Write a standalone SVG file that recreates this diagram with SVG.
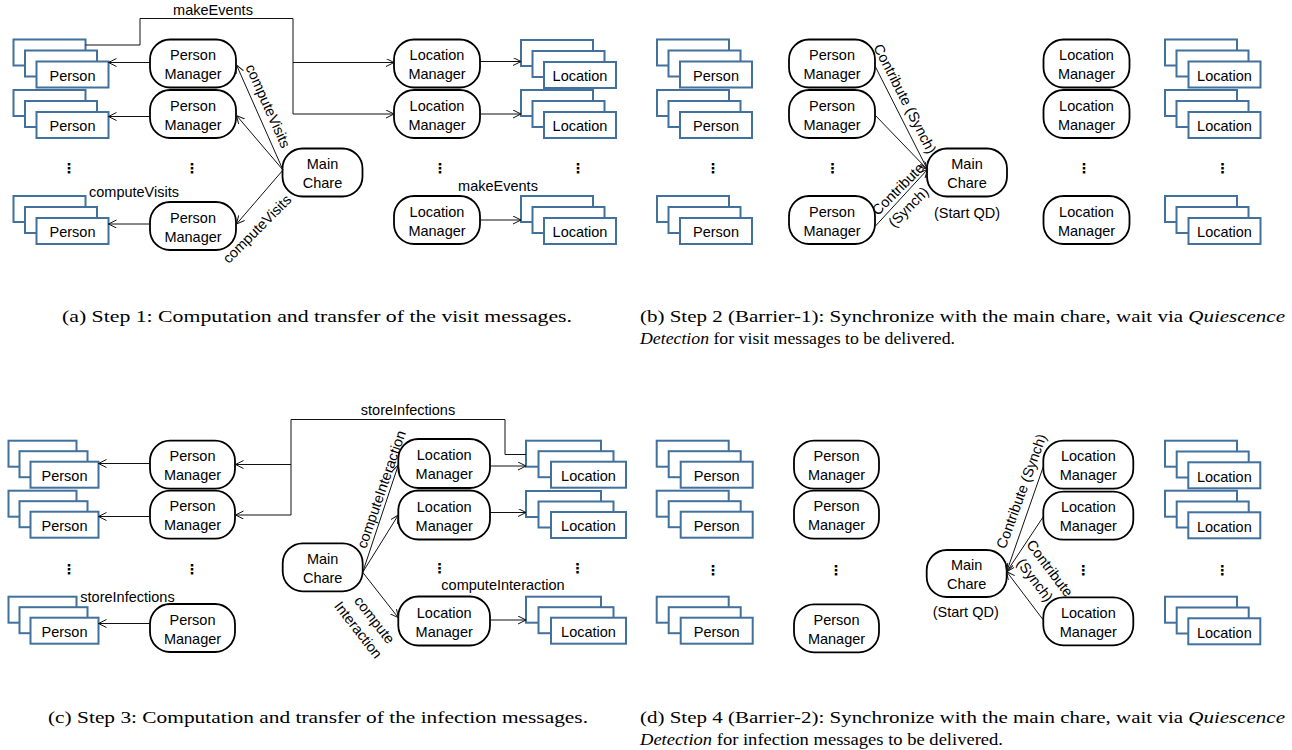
<svg xmlns="http://www.w3.org/2000/svg" width="1292" height="750" viewBox="0 0 1292 750">
<style>
.mgr{fill:#fff;stroke:#000;stroke-width:1.8}
.stk{fill:#fff;stroke:#41719c;stroke-width:2}
.t{font-family:"Liberation Sans",Arial,sans-serif;font-size:14.5px;text-anchor:middle;fill:#000}
.dots{font-family:"DejaVu Sans",sans-serif;font-size:14px;font-weight:bold;text-anchor:middle;fill:#000}
.ln{fill:none;stroke:#111;stroke-width:1}
.ar{marker-end:url(#arr)}
.cap{font-family:"Liberation Serif","Times New Roman",serif;font-size:17px;fill:#000}
.it{font-style:italic}
</style>
<defs>
<marker id="arr" markerUnits="userSpaceOnUse" markerWidth="10" markerHeight="10" refX="8" refY="4" orient="auto">
<path d="M0,0 L8,4 L0,8" fill="none" stroke="#111" stroke-width="1"/>
</marker>
</defs>
<rect width="1292" height="750" fill="#fff"/>

<!-- ===== Panel (a) ===== -->
<g id="a-nodes">
<g id="a-person1"><rect class="stk" x="13.5" y="39.5" width="72" height="26"/><rect class="stk" x="25" y="50.5" width="72" height="26"/><rect class="stk" x="36.5" y="61.5" width="72" height="26"/><text class="t" x="72.5" y="80.5">Person</text></g>
<g id="a-person2"><rect class="stk" x="13.5" y="90" width="72" height="26"/><rect class="stk" x="25" y="101" width="72" height="26"/><rect class="stk" x="36.5" y="112" width="72" height="26"/><text class="t" x="72.5" y="131">Person</text></g>
<g id="a-person3"><rect class="stk" x="13.5" y="196" width="72" height="26"/><rect class="stk" x="25" y="207" width="72" height="26"/><rect class="stk" x="36.5" y="218" width="72" height="26"/><text class="t" x="72.5" y="237">Person</text></g>
<g id="a-pm1"><rect class="mgr" x="150" y="39.5" width="86" height="48" rx="20"/><text class="t" x="193" y="60">Person</text><text class="t" x="193" y="79">Manager</text></g>
<g id="a-pm2"><rect class="mgr" x="150" y="90" width="86" height="48" rx="20"/><text class="t" x="193" y="110.5">Person</text><text class="t" x="193" y="129.5">Manager</text></g>
<g id="a-pm3"><rect class="mgr" x="150" y="202" width="86" height="48" rx="20"/><text class="t" x="193" y="222.5">Person</text><text class="t" x="193" y="241.5">Manager</text></g>
<g id="a-main"><rect class="mgr" x="282.5" y="148.5" width="80" height="48" rx="20"/><text class="t" x="322.5" y="168.5">Main</text><text class="t" x="322.5" y="187.5">Chare</text></g>
<g id="a-lm1"><rect class="mgr" x="394" y="39.5" width="86" height="48" rx="20"/><text class="t" x="437" y="60">Location</text><text class="t" x="437" y="79">Manager</text></g>
<g id="a-lm2"><rect class="mgr" x="394" y="90" width="86" height="48" rx="20"/><text class="t" x="437" y="110.5">Location</text><text class="t" x="437" y="129.5">Manager</text></g>
<g id="a-lm3"><rect class="mgr" x="394" y="196" width="86" height="48" rx="20"/><text class="t" x="437" y="216.5">Location</text><text class="t" x="437" y="235.5">Manager</text></g>
<g id="a-loc1"><rect class="stk" x="521" y="40" width="72" height="26"/><rect class="stk" x="532.5" y="51" width="72" height="26"/><rect class="stk" x="544" y="62" width="72" height="26"/><text class="t" x="580" y="81">Location</text></g>
<g id="a-loc2"><rect class="stk" x="521" y="90" width="72" height="26"/><rect class="stk" x="532.5" y="101" width="72" height="26"/><rect class="stk" x="544" y="112" width="72" height="26"/><text class="t" x="580" y="131">Location</text></g>
<g id="a-loc3"><rect class="stk" x="521" y="196" width="72" height="26"/><rect class="stk" x="532.5" y="207" width="72" height="26"/><rect class="stk" x="544" y="218" width="72" height="26"/><text class="t" x="580" y="237">Location</text></g>
<g id="a-dots"><text class="dots" x="69" y="173">⋮</text><text class="dots" x="192" y="173">⋮</text><text class="dots" x="440" y="173">⋮</text><text class="dots" x="578" y="173">⋮</text></g>
</g>
<g id="a-connectors">
<path class="ln ar" d="M150,62.5 H108.5"/>
<path class="ln ar" d="M150,116.5 H108.5"/>
<path class="ln ar" d="M150,224 H108.5"/>
<path class="ln ar" d="M283,170 L236.5,65"/>
<path class="ln ar" d="M283,170 L236.5,115.5"/>
<path class="ln ar" d="M283,170 L236.5,224"/>
<path class="ln ar" d="M85.5,45 H140 V18.5 H293 V114 H394"/>
<path class="ln ar" d="M293,62.5 H394"/>
<path class="ln ar" d="M480,61.5 H521"/>
<path class="ln ar" d="M480,114 H521"/>
<path class="ln ar" d="M480,220 H521"/>
<text class="t" x="213" y="14.5">makeEvents</text>
<text class="t" transform="translate(263.5,108) rotate(66)">computeVisits</text>
<text class="t" transform="translate(260.5,232.5) rotate(-45)">computeVisits</text>
<text class="t" x="134" y="197">computeVisits</text>
<text class="t" x="498" y="190.5">makeEvents</text>
</g>

<!-- ===== Panel (b) ===== -->
<g id="b-nodes">
<g id="b-person1"><rect class="stk" x="657" y="39.5" width="72" height="26"/><rect class="stk" x="668.5" y="50.5" width="72" height="26"/><rect class="stk" x="680" y="61.5" width="72" height="26"/><text class="t" x="716" y="80.5">Person</text></g>
<g id="b-person2"><rect class="stk" x="657" y="90" width="72" height="26"/><rect class="stk" x="668.5" y="101" width="72" height="26"/><rect class="stk" x="680" y="112" width="72" height="26"/><text class="t" x="716" y="131">Person</text></g>
<g id="b-person3"><rect class="stk" x="657" y="196" width="72" height="26"/><rect class="stk" x="668.5" y="207" width="72" height="26"/><rect class="stk" x="680" y="218" width="72" height="26"/><text class="t" x="716" y="237">Person</text></g>
<g id="b-pm1"><rect class="mgr" x="789" y="39.5" width="86" height="48" rx="20"/><text class="t" x="832" y="60">Person</text><text class="t" x="832" y="79">Manager</text></g>
<g id="b-pm2"><rect class="mgr" x="789" y="90" width="86" height="48" rx="20"/><text class="t" x="832" y="110.5">Person</text><text class="t" x="832" y="129.5">Manager</text></g>
<g id="b-pm3"><rect class="mgr" x="789" y="196" width="86" height="48" rx="20"/><text class="t" x="832" y="216.5">Person</text><text class="t" x="832" y="235.5">Manager</text></g>
<g id="b-main"><rect class="mgr" x="927" y="148.5" width="80" height="48" rx="20"/><text class="t" x="967" y="168.5">Main</text><text class="t" x="967" y="187.5">Chare</text><text class="t" x="967" y="218">(Start QD)</text></g>
<g id="b-lm1"><rect class="mgr" x="1043.5" y="39.5" width="86" height="48" rx="20"/><text class="t" x="1086.5" y="60">Location</text><text class="t" x="1086.5" y="79">Manager</text></g>
<g id="b-lm2"><rect class="mgr" x="1043.5" y="90" width="86" height="48" rx="20"/><text class="t" x="1086.5" y="110.5">Location</text><text class="t" x="1086.5" y="129.5">Manager</text></g>
<g id="b-lm3"><rect class="mgr" x="1043.5" y="196" width="86" height="48" rx="20"/><text class="t" x="1086.5" y="216.5">Location</text><text class="t" x="1086.5" y="235.5">Manager</text></g>
<g id="b-loc1"><rect class="stk" x="1165" y="39.5" width="72" height="26"/><rect class="stk" x="1176.5" y="50.5" width="72" height="26"/><rect class="stk" x="1188.5" y="61.5" width="72" height="26"/><text class="t" x="1224.5" y="80.5">Location</text></g>
<g id="b-loc2"><rect class="stk" x="1165" y="90" width="72" height="26"/><rect class="stk" x="1176.5" y="101" width="72" height="26"/><rect class="stk" x="1188.5" y="112" width="72" height="26"/><text class="t" x="1224.5" y="131">Location</text></g>
<g id="b-loc3"><rect class="stk" x="1165" y="196" width="72" height="26"/><rect class="stk" x="1176.5" y="207" width="72" height="26"/><rect class="stk" x="1188.5" y="218" width="72" height="26"/><text class="t" x="1224.5" y="237">Location</text></g>
<g id="b-dots"><text class="dots" x="713" y="173">⋮</text><text class="dots" x="832.5" y="173">⋮</text><text class="dots" x="1084" y="173">⋮</text><text class="dots" x="1222.5" y="173">⋮</text></g>
</g>
<g id="b-connectors">
<path class="ln ar" d="M875,66 L927.5,169.5"/>
<path class="ln ar" d="M875,115 L927.5,169.5"/>
<path class="ln ar" d="M875,226.5 L927.5,169.5"/>
<text class="t" transform="translate(900.5,101) rotate(63)">Contribute (Synch)</text>
<text class="t" transform="translate(901.5,192.5) rotate(-45)">Contribute</text>
<text class="t" transform="translate(912,210.5) rotate(-45)">(Synch)</text>
</g>

<!-- ===== Panel (c) ===== -->
<g id="c-nodes">
<g id="c-person1"><rect class="stk" x="8.5" y="440.7" width="68" height="26"/><rect class="stk" x="19.5" y="451.2" width="68" height="26"/><rect class="stk" x="30.5" y="461.7" width="68" height="26"/><text class="t" x="64.5" y="480.7">Person</text></g>
<g id="c-person2"><rect class="stk" x="8.5" y="490.7" width="68" height="26"/><rect class="stk" x="19.5" y="501.2" width="68" height="26"/><rect class="stk" x="30.5" y="511.7" width="68" height="26"/><text class="t" x="64.5" y="530.7">Person</text></g>
<g id="c-person3"><rect class="stk" x="8.5" y="596.7" width="68" height="26"/><rect class="stk" x="19.5" y="607.2" width="68" height="26"/><rect class="stk" x="30.5" y="617.7" width="68" height="26"/><text class="t" x="64.5" y="636.7">Person</text></g>
<g id="c-pm1"><rect class="mgr" x="150" y="440.7" width="85" height="48" rx="20"/><text class="t" x="192.5" y="461.2">Person</text><text class="t" x="192.5" y="480.2">Manager</text></g>
<g id="c-pm2"><rect class="mgr" x="150" y="490.7" width="85" height="48" rx="20"/><text class="t" x="192.5" y="511.2">Person</text><text class="t" x="192.5" y="530.2">Manager</text></g>
<g id="c-pm3"><rect class="mgr" x="150" y="604" width="85" height="48" rx="20"/><text class="t" x="192.5" y="624.5">Person</text><text class="t" x="192.5" y="643.5">Manager</text></g>
<g id="c-main"><rect class="mgr" x="282.7" y="543.3" width="80" height="48" rx="20"/><text class="t" x="322.7" y="563.8">Main</text><text class="t" x="322.7" y="582.8">Chare</text></g>
<g id="c-lm1"><rect class="mgr" x="398.3" y="439" width="91.7" height="49" rx="20"/><text class="t" x="444.2" y="460">Location</text><text class="t" x="444.2" y="479">Manager</text></g>
<g id="c-lm2"><rect class="mgr" x="398.3" y="490.5" width="91.7" height="49" rx="20"/><text class="t" x="444.2" y="511.5">Location</text><text class="t" x="444.2" y="530.5">Manager</text></g>
<g id="c-lm3"><rect class="mgr" x="398.3" y="596.5" width="91.7" height="49" rx="20"/><text class="t" x="444.2" y="617.5">Location</text><text class="t" x="444.2" y="636.5">Manager</text></g>
<g id="c-loc1"><rect class="stk" x="526" y="440.7" width="75" height="26"/><rect class="stk" x="538.5" y="451.2" width="75" height="26"/><rect class="stk" x="551" y="461.7" width="75" height="26"/><text class="t" x="588.5" y="481">Location</text></g>
<g id="c-loc2"><rect class="stk" x="526" y="491" width="75" height="26"/><rect class="stk" x="538.5" y="501.5" width="75" height="26"/><rect class="stk" x="551" y="512" width="75" height="26"/><text class="t" x="588.5" y="531.3">Location</text></g>
<g id="c-loc3"><rect class="stk" x="526" y="596.7" width="75" height="26"/><rect class="stk" x="538.5" y="607.2" width="75" height="26"/><rect class="stk" x="551" y="617.7" width="75" height="26"/><text class="t" x="588.5" y="637">Location</text></g>
<g id="c-dots"><text class="dots" x="69" y="574">⋮</text><text class="dots" x="192" y="574">⋮</text><text class="dots" x="439.5" y="573">⋮</text><text class="dots" x="577.5" y="573">⋮</text></g>
</g>
<g id="c-connectors">
<path class="ln ar" d="M150,463.5 H98.5"/>
<path class="ln ar" d="M150,516.5 H98.5"/>
<path class="ln ar" d="M150,623.5 H98.5"/>
<path class="ln ar" d="M526,454.5 H505 V419.5 H291 V515 H235.5"/>
<path class="ln ar" d="M291,464.5 H235.5"/>
<path class="ln ar" d="M362.7,572.3 L398.3,465"/>
<path class="ln ar" d="M362.7,572.3 L398.3,515"/>
<path class="ln ar" d="M362.7,572.3 L398.3,617.7"/>
<path class="ln ar" d="M490,466 H526"/>
<path class="ln ar" d="M490,512.5 H526"/>
<path class="ln ar" d="M490,620 H526"/>
<text class="t" x="408" y="414.5">storeInfections</text>
<text class="t" x="127.5" y="601.7">storeInfections</text>
<text class="t" transform="translate(386,491) rotate(-71)">computeInteraction</text>
<text class="t" x="503" y="590">computeInteraction</text>
<text class="t" transform="translate(370.6,623) rotate(52)">compute</text>
<text class="t" transform="translate(354.4,633) rotate(52)">Interaction</text>
</g>

<!-- ===== Panel (d) ===== -->
<g id="d-nodes">
<g id="d-person1"><rect class="stk" x="656.7" y="440.7" width="72" height="26"/><rect class="stk" x="668.7" y="451.2" width="72" height="26"/><rect class="stk" x="680.7" y="461.7" width="72" height="26"/><text class="t" x="716.7" y="480.7">Person</text></g>
<g id="d-person2"><rect class="stk" x="656.7" y="490.7" width="72" height="26"/><rect class="stk" x="668.7" y="501.2" width="72" height="26"/><rect class="stk" x="680.7" y="511.7" width="72" height="26"/><text class="t" x="716.7" y="530.7">Person</text></g>
<g id="d-person3"><rect class="stk" x="656.7" y="596.7" width="72" height="26"/><rect class="stk" x="668.7" y="607.2" width="72" height="26"/><rect class="stk" x="680.7" y="617.7" width="72" height="26"/><text class="t" x="716.7" y="636.7">Person</text></g>
<g id="d-pm1"><rect class="mgr" x="794" y="440.7" width="85" height="48" rx="20"/><text class="t" x="836.5" y="461.2">Person</text><text class="t" x="836.5" y="480.2">Manager</text></g>
<g id="d-pm2"><rect class="mgr" x="794" y="490.7" width="85" height="48" rx="20"/><text class="t" x="836.5" y="511.2">Person</text><text class="t" x="836.5" y="530.2">Manager</text></g>
<g id="d-pm3"><rect class="mgr" x="794" y="604.3" width="85" height="48" rx="20"/><text class="t" x="836.5" y="624.8">Person</text><text class="t" x="836.5" y="643.8">Manager</text></g>
<g id="d-main"><rect class="mgr" x="926.7" y="550" width="80" height="47" rx="20"/><text class="t" x="966.7" y="570">Main</text><text class="t" x="966.7" y="589">Chare</text><text class="t" x="965.7" y="617">(Start QD)</text></g>
<g id="d-lm1"><rect class="mgr" x="1043.3" y="440.7" width="90" height="48" rx="20"/><text class="t" x="1088.3" y="461.2">Location</text><text class="t" x="1088.3" y="480.2">Manager</text></g>
<g id="d-lm2"><rect class="mgr" x="1043.3" y="491.7" width="90" height="48" rx="20"/><text class="t" x="1088.3" y="512.2">Location</text><text class="t" x="1088.3" y="531.2">Manager</text></g>
<g id="d-lm3"><rect class="mgr" x="1043.3" y="597.3" width="90" height="48" rx="20"/><text class="t" x="1088.3" y="617.8">Location</text><text class="t" x="1088.3" y="636.8">Manager</text></g>
<g id="d-loc1"><rect class="stk" x="1165" y="440.7" width="72" height="26"/><rect class="stk" x="1176.7" y="451.5" width="72" height="26"/><rect class="stk" x="1188.3" y="462.3" width="72" height="26"/><text class="t" x="1224.3" y="481.5">Location</text></g>
<g id="d-loc2"><rect class="stk" x="1165" y="490.7" width="72" height="26"/><rect class="stk" x="1176.7" y="501.5" width="72" height="26"/><rect class="stk" x="1188.3" y="512.3" width="72" height="26"/><text class="t" x="1224.3" y="531.5">Location</text></g>
<g id="d-loc3"><rect class="stk" x="1165" y="596.7" width="72" height="26"/><rect class="stk" x="1176.7" y="607.5" width="72" height="26"/><rect class="stk" x="1188.3" y="618.3" width="72" height="26"/><text class="t" x="1224.3" y="637.5">Location</text></g>
<g id="d-dots"><text class="dots" x="713" y="575">⋮</text><text class="dots" x="836" y="575">⋮</text><text class="dots" x="1083.3" y="575">⋮</text><text class="dots" x="1222.3" y="575">⋮</text></g>
</g>
<g id="d-connectors">
<path class="ln ar" d="M1043.3,466.7 L1006.7,571.7"/>
<path class="ln ar" d="M1043.3,516.7 L1006.7,571.7"/>
<path class="ln ar" d="M1043.3,620 L1006.7,571.7"/>
<text class="t" transform="translate(1026,493) rotate(-70)">Contribute (Synch)</text>
<text class="t" transform="translate(1045.8,571.3) rotate(53)">Contribute</text>
<text class="t" transform="translate(1031,583) rotate(53)">(Synch)</text>
</g>

<!-- ===== Captions ===== -->
<g id="captions">
<text class="cap" x="62" y="322" textLength="510" lengthAdjust="spacingAndGlyphs">(a) Step 1: Computation and transfer of the visit messages.</text>
<text class="cap" x="640" y="322" textLength="645" lengthAdjust="spacingAndGlyphs">(b) Step 2 (Barrier-1): Synchronize with the main chare, wait via <tspan class="it">Quiescence</tspan></text>
<text class="cap" x="640" y="344" textLength="315" lengthAdjust="spacingAndGlyphs"><tspan class="it">Detection</tspan> for visit messages to be delivered.</text>
<text class="cap" x="48" y="723" textLength="540" lengthAdjust="spacingAndGlyphs">(c) Step 3: Computation and transfer of the infection messages.</text>
<text class="cap" x="640" y="723" textLength="645" lengthAdjust="spacingAndGlyphs">(d) Step 4 (Barrier-2): Synchronize with the main chare, wait via <tspan class="it">Quiescence</tspan></text>
<text class="cap" x="640" y="745" textLength="363" lengthAdjust="spacingAndGlyphs"><tspan class="it">Detection</tspan> for infection messages to be delivered.</text>
</g>
</svg>
